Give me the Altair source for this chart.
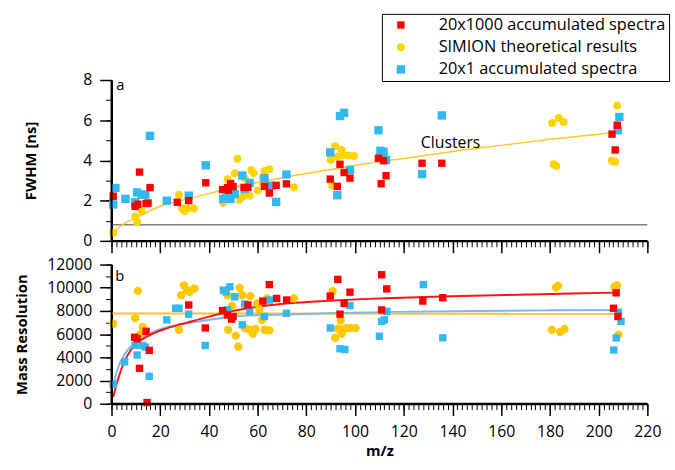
import altair as alt
import pandas as pd

FONT = "Open Sans"

series_names = ["20x1000 accumulated spectra", "SIMION theoretical results", "20x1 accumulated spectra"]
series_colors = ["#ff0000", "#ffd400", "#33b8f2"]
series_shapes = ["square", "circle", "square"]
series_sizes = [56, 72, 56]

# ---------------- panel a : FWHM [ns] ----------------
fwhm_red_x = [0.7, 9.7, 10.8, 11.5, 14.2, 15.0, 15.8, 27.0, 31.7, 38.7, 45.6, 47.6, 48.9, 49.9, 48.0,
              54.4, 56.0, 62.8, 64.8, 67.6, 71.8, 89.8, 92.7, 93.8, 95.5, 97.9, 109.6, 111.7, 110.7,
              112.7, 127.5, 135.6, 205.5, 207.6, 206.8]
fwhm_red_y = [2.22, 1.72, 1.82, 3.42, 1.86, 1.88, 2.65, 1.92, 2.00, 2.89, 2.55, 2.65, 2.85, 2.70, 2.52,
              2.66, 2.66, 2.71, 2.38, 2.76, 2.84, 3.07, 2.71, 3.81, 3.40, 3.12, 4.11, 3.99, 2.84,
              3.24, 3.86, 3.86, 5.31, 5.75, 4.52]

fwhm_yel_x = [0.7, 9.7, 10.5, 12.4, 27.7, 29.0, 30.0, 31.0, 33.8, 45.9, 47.7, 50.6, 51.7, 52.6, 54.0,
              54.7, 56.7, 57.4, 58.3, 60.1, 62.1, 62.1, 62.8, 64.8, 74.9, 90.0, 90.7, 91.8, 92.9,
              94.5, 95.1, 97.2, 99.6, 180.9, 183.6, 185.6, 181.5, 182.6, 207.6, 205.4, 206.8]
fwhm_yel_y = [0.41, 1.20, 0.94, 1.48, 2.30, 1.61, 1.48, 1.60, 1.61, 1.89, 3.07, 3.37, 4.09, 2.05, 2.22,
              3.12, 2.25, 3.53, 3.37, 2.51, 2.88, 3.15, 3.48, 3.57, 2.66, 4.02, 2.74, 4.71, 4.19,
              4.52, 4.27, 4.25, 4.22, 5.86, 6.11, 5.91, 3.81, 3.73, 6.73, 3.99, 3.94]

fwhm_blue_x = [0.7, 1.6, 5.7, 9.7, 10.5, 12.4, 13.9, 15.8, 22.7, 31.7, 38.7, 45.9, 47.2, 48.9, 50.6,
               53.7, 54.7, 56.7, 62.8, 65.5, 67.6, 71.8, 89.8, 92.7, 93.8, 95.5, 97.9, 109.6, 110.4,
               111.7, 112.7, 127.5, 135.6, 207.9, 208.5]
fwhm_blue_y = [1.81, 2.63, 2.09, 1.92, 2.41, 2.30, 2.30, 5.22, 2.00, 2.25, 3.76, 2.09, 2.14, 2.09, 2.33,
               3.25, 2.58, 2.88, 3.12, 2.74, 1.94, 3.30, 4.40, 2.27, 6.21, 6.37, 3.53, 5.50, 4.48,
               4.43, 4.02, 3.32, 6.24, 5.50, 6.16]

fwhm_fit_x = [0.7, 5, 10, 15, 20, 30, 40, 50, 60, 75, 90, 105, 120, 140, 160, 180, 205]
fwhm_fit_y = [0.41, 0.85, 1.15, 1.45, 1.72, 2.05, 2.35, 2.65, 2.90, 3.25, 3.55, 3.85, 4.10, 4.45, 4.75, 5.05, 5.37]

fwhm_ref_level = [0.8]

label_a_x, label_a_y, label_a_text = [1.9], [7.77], ["a"]
clusters_x, clusters_y, clusters_text = [127.0], [4.86], ["Clusters"]

# ---------------- panel b : Mass Resolution ----------------
res_red_x = [9.5, 10.5, 11.5, 14.2, 14.6, 15.5, 31.7, 38.5, 45.6, 47.6, 49.3, 49.9, 56.0, 62.1, 64.8,
             67.8, 71.9, 89.8, 92.9, 93.8, 95.5, 97.9, 110.9, 113.0, 110.9, 127.8, 136.0, 207.2,
             206.1, 207.9]
res_red_y = [5730, 5600, 3050, 6240, 100, 4600, 8510, 6530, 8030, 7660, 7290, 7520, 8510, 8850, 10270,
             9080, 8940, 9280, 10720, 7720, 8650, 9620, 11120, 9900, 8090, 8850, 9140, 9560,
             8230, 7520]

res_yel_x = [0.7, 9.7, 10.8, 11.9, 12.8, 27.7, 28.6, 29.7, 31.0, 32.1, 34.0, 46.6, 47.7, 47.9, 49.5,
             51.0, 52.0, 52.6, 53.7, 54.7, 56.7, 57.0, 58.0, 59.1, 59.8, 60.7, 61.8, 62.8, 63.9,
             64.8, 74.9, 90.8, 91.8, 92.9, 94.1, 94.5, 95.1, 96.5, 97.9, 100.2, 180.8, 182.5,
             183.3, 184.2, 186.0, 206.5, 207.5, 208.1]
res_yel_y = [6890, 7380, 9730, 6020, 6610, 6380, 9360, 10210, 9790, 9650, 9930, 9650, 9360, 6380, 8430,
             5870, 4910, 9990, 9360, 6530, 6380, 9280, 6040, 6440, 8650, 8140, 7230, 6380, 9080,
             6330, 9080, 9700, 5680, 6470, 7180, 6040, 6380, 6530, 6530, 6530, 6380, 10020,
             10160, 6190, 6440, 10080, 10210, 5960]

res_blue_x = [0.7, 5.4, 9.7, 10.5, 12.8, 13.9, 15.5, 22.7, 26.3, 27.7, 31.7, 38.5, 45.9, 47.0, 48.6,
              47.6, 50.6, 53.7, 54.7, 56.7, 62.8, 64.8, 71.8, 89.8, 93.8, 95.8, 97.9, 110.0, 110.9,
              112.0, 113.0, 128.0, 136.0, 206.2, 207.2, 208.1, 209.2]
res_blue_y = [1700, 3610, 5020, 4200, 5020, 4880, 2360, 7230, 8230, 8230, 7720, 5020, 9790, 9650, 10080,
              8090, 9220, 6810, 8600, 7950, 7520, 8940, 7800, 6530, 4740, 4680, 8460, 5820, 7100,
              7230, 7950, 10270, 5680, 4630, 5680, 7890, 7100]

res_red_fit_x = [0.7, 2.7, 5.4, 8.1, 14.9, 21.6, 28.3, 35.1, 48.6, 62.1, 75.6, 89.1, 102.6, 116, 135, 162, 189, 207.2]
res_red_fit_y = [570, 2130, 3690, 4680, 5820, 6420, 6850, 7230, 7950, 8420, 8700, 8880, 9020, 9120, 9240, 9380, 9500, 9580]

res_blue_fit_x = [0.7, 2.7, 5.4, 8.1, 14.9, 21.6, 28.3, 35.1, 48.6, 62.1, 75.6, 89.1, 116, 150, 180, 209]
res_blue_fit_y = [1600, 3120, 4260, 4970, 5960, 6530, 6850, 7060, 7480, 7640, 7720, 7800, 7920, 8000, 8050, 8090]

res_yel_fit_x = [0.0, 208.3]
res_yel_fit_y = [7780, 7760]

label_b_x, label_b_y, label_b_text = [1.5], [11040], ["b"]

axis_origin = [0]

# ---------------- helpers ----------------
xscale = alt.Scale(domain=[0, 220], nice=False, zero=False)
ytop_scale = alt.Scale(domain=[0, 8], nice=False, zero=False)
ybot_scale = alt.Scale(domain=[0, 12000], nice=False, zero=False)


def x_major(labels, title):
    kw = dict(values=list(range(0, 221, 20)), tickSize=12, tickWidth=1.5, tickColor="#000000",
              tickOpacity=1, ticks=True, domain=True, domainOpacity=1,
              domainWidth=2, domainColor="#000000", grid=False, labels=labels, orient="bottom",
              labelFont=FONT, labelFontSize=16, labelColor="black", labelPadding=8,
              labelFlush=False, labelOverlap=False, format="d",
              titleFont=FONT, titleFontSize=15, titleFontWeight="bold", titleColor="black",
              titlePadding=4)
    kw["title"] = title if title else None
    return alt.Axis(**kw)


def x_minor():
    return alt.Axis(values=list(range(0, 221, 2)), tickSize=6, tickWidth=1, tickColor="#000000",
                    tickOpacity=1, ticks=True,
                    labels=False, domain=False, grid=False, title=None, orient="bottom")


def y_major(values, title, title_x):
    return alt.Axis(values=values, tickSize=12, tickWidth=1.5, tickColor="#000000",
                    tickOpacity=1, ticks=True, domain=True, domainOpacity=1,
                    domainWidth=2, domainColor="#000000", grid=False, orient="left",
                    labelFont=FONT, labelFontSize=16, labelColor="black", labelPadding=8,
                    labelFlush=False, labelOverlap=False, format="d",
                    title=title, titleFont=FONT, titleFontSize=15, titleFontWeight="bold",
                    titleColor="black", titleX=title_x, titleBaseline="middle")


def y_minor(values):
    return alt.Axis(values=values, tickSize=6, tickWidth=1, tickColor="#000000",
                    tickOpacity=1, ticks=True,
                    labels=False, domain=False, grid=False, title=None, orient="left")


def frame(xs, ys, name):
    return pd.DataFrame({"mz": xs, "val": ys, "series": name})


def origin_rules(yscale):
    vert = alt.Chart(pd.DataFrame({"mz": axis_origin})).mark_rule(color="black", strokeWidth=2).encode(
        x=alt.X("mz:Q", scale=xscale, axis=None))
    horiz = alt.Chart(pd.DataFrame({"val": axis_origin})).mark_rule(color="black", strokeWidth=2).encode(
        y=alt.Y("val:Q", scale=yscale, axis=None))
    return vert, horiz


# ---------------- panel a ----------------
top_pts = pd.concat([
    frame(fwhm_yel_x, fwhm_yel_y, series_names[1]),
    frame(fwhm_blue_x, fwhm_blue_y, series_names[2]),
    frame(fwhm_red_x, fwhm_red_y, series_names[0]),
], ignore_index=True)
top_pts["ord"] = range(len(top_pts))

legend_kw = dict(title=None, orient="none", legendX=274, legendY=-67, strokeColor="black",
                 fillColor="white", padding=3, symbolOffset=8, labelOffset=30, labelFont=FONT,
                 labelFontSize=16.5, labelColor="black", rowPadding=5.5, symbolSize=49,
                 symbolStrokeWidth=0, labelLimit=400)

top_minor = alt.Chart(top_pts).mark_point(opacity=0).encode(
    x=alt.X("mz:Q", scale=xscale, axis=x_minor()),
    y=alt.Y("val:Q", scale=ytop_scale, axis=y_minor(list(range(0, 9)))),
)

top_major = alt.Chart(top_pts).mark_point(opacity=0).encode(
    x=alt.X("mz:Q", scale=xscale, axis=x_major(False, None)),
    y=alt.Y("val:Q", scale=ytop_scale, axis=y_major([0, 2, 4, 6, 8], "FWHM [ns]", -82)),
)

top_ref = alt.Chart(pd.DataFrame({"level": fwhm_ref_level})).mark_rule(
    color="#808080", strokeWidth=1.5).encode(
    y=alt.Y("level:Q", scale=ytop_scale, axis=None))

top_fit = alt.Chart(frame(fwhm_fit_x, fwhm_fit_y, "fit")).mark_line(
    color="#ffc62a", strokeWidth=1.5, interpolate="monotone").encode(
    x=alt.X("mz:Q", scale=xscale, axis=None),
    y=alt.Y("val:Q", scale=ytop_scale, axis=None))

top_points = alt.Chart(top_pts).mark_point(filled=True, opacity=1, strokeWidth=0).encode(
    x=alt.X("mz:Q", scale=xscale, axis=None),
    y=alt.Y("val:Q", scale=ytop_scale, axis=None),
    color=alt.Color("series:N", scale=alt.Scale(domain=series_names, range=series_colors),
                    legend=alt.Legend(**legend_kw)),
    shape=alt.Shape("series:N", scale=alt.Scale(domain=series_names, range=series_shapes),
                    legend=alt.Legend(**legend_kw)),
    size=alt.Size("series:N", scale=alt.Scale(domain=series_names, range=series_sizes), legend=None),
    order=alt.Order("ord:Q"),
)

top_a = alt.Chart(pd.DataFrame({"mz": label_a_x, "val": label_a_y, "t": label_a_text})).mark_text(
    align="left", baseline="middle", font=FONT, fontSize=15, color="black").encode(
    x=alt.X("mz:Q", scale=xscale, axis=None), y=alt.Y("val:Q", scale=ytop_scale, axis=None), text="t:N")

top_clusters = alt.Chart(pd.DataFrame({"mz": clusters_x, "val": clusters_y, "t": clusters_text})).mark_text(
    align="left", baseline="middle", font=FONT, fontSize=16, color="black").encode(
    x=alt.X("mz:Q", scale=xscale, axis=None), y=alt.Y("val:Q", scale=ytop_scale, axis=None), text="t:N")

top_v, top_h = origin_rules(ytop_scale)

top = alt.layer(top_minor, top_major, top_ref, top_fit, top_points, top_a, top_clusters,
                top_v, top_h).resolve_axis(
    x="independent", y="independent").properties(width=543, height=163)

# ---------------- panel b ----------------
bot_all = pd.concat([
    frame(res_yel_x, res_yel_y, series_names[1]),
    frame(res_blue_x, res_blue_y, series_names[2]),
    frame(res_red_x, res_red_y, series_names[0]),
], ignore_index=True)

bot_minor = alt.Chart(bot_all).mark_point(opacity=0).encode(
    x=alt.X("mz:Q", scale=xscale, axis=x_minor()),
    y=alt.Y("val:Q", scale=ybot_scale, axis=y_minor(list(range(0, 12001, 1000)))),
)

bot_major = alt.Chart(bot_all).mark_point(opacity=0).encode(
    x=alt.X("mz:Q", scale=xscale, axis=x_major(True, "m/z")),
    y=alt.Y("val:Q", scale=ybot_scale,
            axis=y_major(list(range(0, 12001, 2000)), "Mass Resolution", -91)),
)


def line_layer(xs, ys, color, width=2):
    return alt.Chart(frame(xs, ys, "fit")).mark_line(
        color=color, strokeWidth=width, interpolate="monotone").encode(
        x=alt.X("mz:Q", scale=xscale, axis=None),
        y=alt.Y("val:Q", scale=ybot_scale, axis=None))


def point_layer(xs, ys, color, shape, size):
    return alt.Chart(frame(xs, ys, "p")).mark_point(
        filled=True, opacity=1, strokeWidth=0, color=color, shape=shape, size=size).encode(
        x=alt.X("mz:Q", scale=xscale, axis=None),
        y=alt.Y("val:Q", scale=ybot_scale, axis=None))


bot_yfit = line_layer(res_yel_fit_x, res_yel_fit_y, "#ffbf33", 2)
bot_bfit = line_layer(res_blue_fit_x, res_blue_fit_y, "#7fb6f2", 2)
bot_rfit = line_layer(res_red_fit_x, res_red_fit_y, "#ff1414", 2)

bot_ypts = point_layer(res_yel_x, res_yel_y, "#ffc800", "circle", 72)
bot_bpts = point_layer(res_blue_x, res_blue_y, "#33b8f2", "square", 56)
bot_rpts = point_layer(res_red_x, res_red_y, "#ff0000", "square", 56)

bot_b = alt.Chart(pd.DataFrame({"mz": label_b_x, "val": label_b_y, "t": label_b_text})).mark_text(
    align="left", baseline="middle", font=FONT, fontSize=15, color="black").encode(
    x=alt.X("mz:Q", scale=xscale, axis=None), y=alt.Y("val:Q", scale=ybot_scale, axis=None), text="t:N")

bot_v, bot_h = origin_rules(ybot_scale)

bottom = alt.layer(bot_minor, bot_major, bot_yfit, bot_bfit, bot_rfit,
                   bot_ypts, bot_bpts, bot_rpts, bot_b, bot_v, bot_h).resolve_axis(
    x="independent", y="independent").properties(width=543, height=141)

chart = alt.vconcat(top, bottom, spacing=24, bounds="flush").properties(
    background="white",
    padding={"left": 15, "top": 10, "right": 5, "bottom": 2},
).configure_view(stroke=None).configure_axis(
    tickColor="#000000", domainColor="#000000", tickOpacity=1, domainOpacity=1, ticks=True
)

chart.save("out.html", embed_options={"renderer": "svg", "actions": False})
